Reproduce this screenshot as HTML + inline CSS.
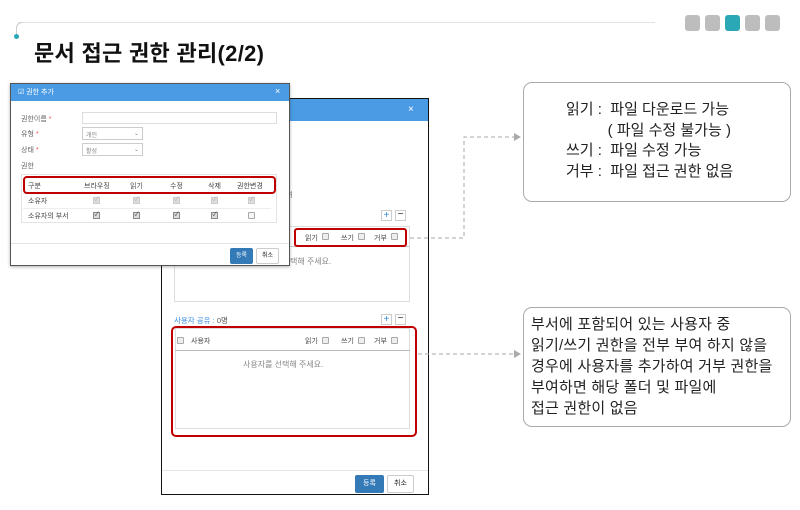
<!DOCTYPE html>
<html><head><meta charset="utf-8"><style>
*{box-sizing:border-box;margin:0;padding:0}
body{width:800px;height:510px;background:#fff;position:relative;overflow:hidden;font-family:"Liberation Sans","Noto Sans CJK KR",sans-serif;color:#222}
.a{position:absolute}
.t{font-size:7px;color:#666;white-space:nowrap}
.cb{position:absolute;width:7px;height:7px;border:1px solid #aaa;background:#eee;border-radius:1px}
.ck{position:absolute;width:7px;height:7px;border:1px solid #888;background:#ddd;font-size:6px;line-height:5px;text-align:center;color:#333}
</style></head><body>
<!-- header -->
<div class="a" style="left:18px;top:22px;width:637px;height:1px;background:#e3e3e3"></div>
<div class="a" style="left:16px;top:22px;width:6px;height:14px;border-left:1px solid #ccc;border-top:1px solid #ccc;border-top-left-radius:6px"></div>
<div class="a" style="left:14px;top:34px;width:5px;height:5px;border-radius:50%;background:#2aa8b5"></div>
<div class="a" style="left:34px;top:36px;font-size:22px;font-weight:bold;color:#111;letter-spacing:0.3px">문서 접근 권한 관리(2/2)</div>
<div class="a" style="left:685px;top:15px;width:15px;height:16px;background:#bdbdbd;border-radius:3px"></div>
<div class="a" style="left:705px;top:15px;width:15px;height:16px;background:#bdbdbd;border-radius:3px"></div>
<div class="a" style="left:725px;top:15px;width:15px;height:16px;background:#2aa8b5;border-radius:3px"></div>
<div class="a" style="left:745px;top:15px;width:15px;height:16px;background:#bdbdbd;border-radius:3px"></div>
<div class="a" style="left:765px;top:15px;width:15px;height:16px;background:#bdbdbd;border-radius:3px"></div>

<!-- back dialog -->
<div class="a" style="left:161px;top:98px;width:268px;height:397px;border:1px solid #111;background:#fff"></div>
<div class="a" style="left:162px;top:99px;width:266px;height:22px;background:#4a9be3"></div>
<div class="a" style="left:408px;top:104px;color:#fff;font-size:10px">×</div>
<div class="a t" style="left:286px;top:190px">녀</div>
<div class="a" style="left:381px;top:210px;width:11px;height:11px;border:1px solid #ccc;color:#3a8be0;font-size:10px;line-height:9px;text-align:center">+</div>
<div class="a" style="left:395px;top:210px;width:11px;height:11px;border:1px solid #ccc;font-size:10px;line-height:8px;text-align:center">−</div>
<div class="a" style="left:174px;top:226px;width:236px;height:76px;border:1px solid #ddd"></div>
<div class="a" style="left:174px;top:246px;width:236px;height:1px;background:#ccc"></div>
<div class="a t" style="left:305px;top:233px;color:#444">읽기</div><div class="cb" style="left:322px;top:233px"></div>
<div class="a t" style="left:341px;top:233px;color:#444">쓰기</div><div class="cb" style="left:358px;top:233px"></div>
<div class="a t" style="left:374px;top:233px;color:#444">거부</div><div class="cb" style="left:391px;top:233px"></div>
<div class="a" style="left:294px;top:228px;width:113px;height:19px;border:2px solid #c00000;border-radius:3px"></div>
<div class="a t" style="left:290px;top:256px;font-size:8px;color:#888">택해 주세요.</div>
<div class="a t" style="left:174px;top:315px;color:#3a8be0;font-size:7.5px">사용자 공유 : <span style="color:#555">0명</span></div>
<div class="a" style="left:381px;top:314px;width:11px;height:11px;border:1px solid #ccc;color:#3a8be0;font-size:10px;line-height:9px;text-align:center">+</div>
<div class="a" style="left:395px;top:314px;width:11px;height:11px;border:1px solid #ccc;font-size:10px;line-height:8px;text-align:center">−</div>
<div class="a" style="left:175px;top:328px;width:235px;height:101px;border:1px solid #ddd"></div>
<div class="a" style="left:175px;top:350px;width:235px;height:1px;background:#bbb"></div>
<div class="cb" style="left:177px;top:337px"></div>
<div class="a t" style="left:191px;top:336px;color:#444">사용자</div>
<div class="a t" style="left:305px;top:336px;color:#444">읽기</div><div class="cb" style="left:322px;top:337px"></div>
<div class="a t" style="left:341px;top:336px;color:#444">쓰기</div><div class="cb" style="left:358px;top:337px"></div>
<div class="a t" style="left:374px;top:336px;color:#444">거부</div><div class="cb" style="left:391px;top:337px"></div>
<div class="a t" style="left:243px;top:359px;font-size:8px;color:#888">사용자를 선택해 주세요.</div>
<div class="a" style="left:171px;top:326px;width:246px;height:111px;border:2px solid #c00000;border-radius:5px"></div>
<div class="a" style="left:162px;top:470px;width:266px;height:1px;background:#e5e5e5"></div>
<div class="a" style="left:355px;top:475px;width:29px;height:18px;background:#337ab7;border-radius:2px;color:#fff;font-size:7px;text-align:center;line-height:18px">등록</div>
<div class="a" style="left:387px;top:475px;width:27px;height:18px;border:1px solid #ccc;border-radius:2px;font-size:7px;text-align:center;line-height:16px">취소</div>

<!-- front dialog -->
<div class="a" style="left:10px;top:83px;width:280px;height:183px;border:1px solid #555;background:#fff;box-shadow:0 1px 3px rgba(0,0,0,.3)"></div>
<div class="a" style="left:11px;top:84px;width:278px;height:17px;background:#4a9be3"></div>
<div class="a" style="left:18px;top:87px;color:#fff;font-size:7px">☑ 권한 추가</div>
<div class="a" style="left:275px;top:86px;color:#fff;font-size:9px">×</div>
<div class="a t" style="left:21px;top:114px">권한이름 <span style="color:#e55">*</span></div>
<div class="a" style="left:82px;top:112px;width:195px;height:12px;border:1px solid #ddd"></div>
<div class="a t" style="left:21px;top:129px">유형 <span style="color:#e55">*</span></div>
<div class="a" style="left:82px;top:127px;width:61px;height:13px;border:1px solid #ccc;font-size:6px;color:#888;padding:2px 3px">개인<span style="float:right">⌄</span></div>
<div class="a t" style="left:21px;top:145px">상태 <span style="color:#e55">*</span></div>
<div class="a" style="left:82px;top:143px;width:61px;height:13px;border:1px solid #ccc;font-size:6px;color:#888;padding:2px 3px">활성<span style="float:right">⌄</span></div>
<div class="a t" style="left:21px;top:161px">권한</div>
<div class="a" style="left:21px;top:174px;width:256px;height:49px;border:1px solid #e3e3e3"></div>
<div class="a" style="left:23px;top:208px;width:248px;height:1px;background:#eee"></div>
<div class="a" style="left:23px;top:193px;width:248px;height:1px;background:#e5e5e5"></div>
<div class="a t" style="left:28px;top:181px;color:#444">구분</div>
<div class="a t" style="left:84px;top:181px;color:#444">브라우징</div>
<div class="a t" style="left:130px;top:181px;color:#444">읽기</div>
<div class="a t" style="left:170px;top:181px;color:#444">수정</div>
<div class="a t" style="left:208px;top:181px;color:#444">삭제</div>
<div class="a t" style="left:237px;top:181px;color:#444">권한변경</div>
<div class="a" style="left:23px;top:176px;width:253px;height:18px;border:2px solid #c00000;border-radius:4px"></div>
<div class="a t" style="left:28px;top:196px;color:#444">소유자</div>
<div class="a t" style="left:28px;top:211px;color:#444">소유자의 부서</div>
<div class="ck" style="left:93px;top:197px;border-color:#ccc;color:#aaa">✓</div>
<div class="ck" style="left:133px;top:197px;border-color:#ccc;color:#aaa">✓</div>
<div class="ck" style="left:173px;top:197px;border-color:#ccc;color:#aaa">✓</div>
<div class="ck" style="left:211px;top:197px;border-color:#ccc;color:#aaa">✓</div>
<div class="ck" style="left:248px;top:197px;border-color:#ccc;color:#aaa">✓</div>
<div class="ck" style="left:93px;top:212px">✓</div>
<div class="ck" style="left:133px;top:212px">✓</div>
<div class="ck" style="left:173px;top:212px">✓</div>
<div class="ck" style="left:211px;top:212px">✓</div>
<div class="cb" style="left:248px;top:212px;background:#f5f5f5"></div>
<div class="a" style="left:11px;top:243px;width:278px;height:1px;background:#e5e5e5"></div>
<div class="a" style="left:230px;top:248px;width:23px;height:16px;background:#337ab7;border-radius:2px;color:#fff;font-size:6px;text-align:center;line-height:16px">등록</div>
<div class="a" style="left:256px;top:248px;width:23px;height:16px;border:1px solid #ccc;border-radius:2px;font-size:6px;text-align:center;line-height:14px">취소</div>

<!-- connectors -->
<svg class="a" style="left:0;top:0" width="800" height="510">
<path d="M410 238 H464 V137 H514" fill="none" stroke="#aaa" stroke-dasharray="4,3"/>
<polygon points="514,133 521,137 514,141" fill="#aaa"/>
<path d="M418 354 H514" fill="none" stroke="#aaa" stroke-dasharray="4,3"/>
<polygon points="514,350 521,354 514,358" fill="#aaa"/>
</svg>

<!-- note boxes -->
<div class="a" style="left:523px;top:82px;width:268px;height:120px;border:1px solid #aaa;border-radius:9px"></div>
<div class="a" style="left:566px;top:100px;font-size:15px;line-height:20.7px;white-space:pre;color:#222">읽기 :  파일 다운로드 가능
          ( 파일 수정 불가능 )
쓰기 :  파일 수정 가능
거부 :  파일 접근 권한 없음</div>
<div class="a" style="left:523px;top:307px;width:268px;height:120px;border:1px solid #aaa;border-radius:9px"></div>
<div class="a" style="left:531px;top:314px;font-size:15px;line-height:21px;white-space:pre;color:#222;letter-spacing:0.2px">부서에 포함되어 있는 사용자 중
읽기/쓰기 권한을 전부 부여 하지 않을
경우에 사용자를 추가하여 거부 권한을
부여하면 해당 폴더 및 파일에
접근 권한이 없음</div>
</body></html>
